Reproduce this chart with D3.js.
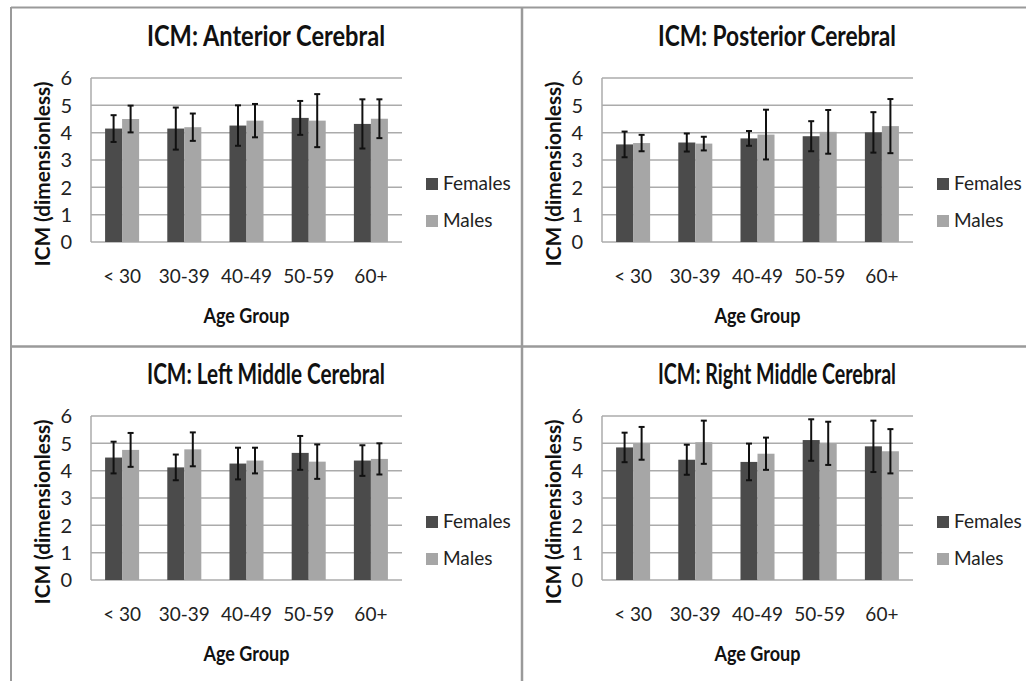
<!DOCTYPE html>
<html>
<head>
<meta charset="utf-8">
<script src="https://cdn.jsdelivr.net/npm/d3@7"></script>
<style>
  body { margin: 0; background: #fff; }
  svg { display: block; font-family: Lato, "Open Sans", sans-serif; }
</style>
</head>
<body>
<div id="chart"></div>
<script>
// Data
const ageGroups = ["< 30", "30-39", "40-49", "50-59", "60+"];
const seriesNames = ["Females", "Males"];
const yTicks = [0, 1, 2, 3, 4, 5, 6];
const panelTitles = ["ICM: Anterior Cerebral", "ICM: Posterior Cerebral",
                     "ICM: Left Middle Cerebral", "ICM: Right Middle Cerebral"];

const anteriorFemales    = [4.15, 4.15, 4.26, 4.54, 4.32];
const anteriorFemalesErr = [0.49, 0.77, 0.74, 0.62, 0.90];
const anteriorMales      = [4.50, 4.20, 4.44, 4.44, 4.51];
const anteriorMalesErr   = [0.49, 0.50, 0.61, 0.97, 0.71];

const posteriorFemales    = [3.57, 3.64, 3.79, 3.87, 4.01];
const posteriorFemalesErr = [0.47, 0.33, 0.27, 0.55, 0.74];
const posteriorMales      = [3.62, 3.60, 3.93, 4.03, 4.24];
const posteriorMalesErr   = [0.30, 0.25, 0.91, 0.80, 0.99];

const leftFemales    = [4.48, 4.12, 4.26, 4.65, 4.37];
const leftFemalesErr = [0.58, 0.47, 0.58, 0.62, 0.56];
const leftMales      = [4.76, 4.78, 4.37, 4.33, 4.43];
const leftMalesErr   = [0.62, 0.62, 0.47, 0.63, 0.57];

const rightFemales    = [4.85, 4.40, 4.32, 5.12, 4.89];
const rightFemalesErr = [0.54, 0.55, 0.67, 0.76, 0.94];
const rightMales      = [5.00, 5.04, 4.62, 5.00, 4.71];
const rightMalesErr   = [0.60, 0.79, 0.59, 0.79, 0.81];

const panelData = [
  [[anteriorFemales, anteriorFemalesErr], [anteriorMales, anteriorMalesErr]],
  [[posteriorFemales, posteriorFemalesErr], [posteriorMales, posteriorMalesErr]],
  [[leftFemales, leftFemalesErr], [leftMales, leftMalesErr]],
  [[rightFemales, rightFemalesErr], [rightMales, rightMalesErr]]
];

// Layout
const W = 1026, H = 681;
const plotW = 311, plotH = 164;
const origins = [{x: 91, y: 78}, {x: 602, y: 78}, {x: 91, y: 416}, {x: 602, y: 416}];
const colors = {Females: "#4b4b4b", Males: "#a6a6a6"};
const gridColor = "#ababab";

const svg = d3.select("#chart").append("svg")
    .attr("width", W)
    .attr("height", H);

// Panel frame lines
const frame = svg.append("g")
    .attr("stroke", "#9a9a9a")
    .attr("stroke-width", 2.5);
frame.append("line").attr("x1", 11).attr("x2", W).attr("y1", 7.5).attr("y2", 7.5).attr("stroke-width", 2);
frame.append("line").attr("x1", 11).attr("x2", 11).attr("y1", 7).attr("y2", H).attr("stroke-width", 2);
frame.append("line").attr("x1", 522).attr("x2", 522).attr("y1", 7).attr("y2", H);
frame.append("line").attr("x1", 11).attr("x2", W).attr("y1", 346.5).attr("y2", 346.5);

// Scales shared by every panel
const x0 = d3.scaleBand()
    .domain(ageGroups)
    .range([0, plotW])
    .paddingInner(0.453)
    .paddingOuter(0.2265);

const x1 = d3.scaleBand()
    .domain(seriesNames)
    .range([0, x0.bandwidth()]);

const y = d3.scaleLinear()
    .domain([0, 6])
    .range([plotH, 0]);

panelData.forEach(function(series, p) {
    const o = origins[p];
    const g = svg.append("g")
        .attr("transform", "translate(" + o.x + "," + o.y + ")");

    // Gridlines
    g.selectAll(".grid")
        .data(yTicks)
      .enter().append("line")
        .attr("class", "grid")
        .attr("x1", 0)
        .attr("x2", plotW)
        .attr("y1", d => y(d))
        .attr("y2", d => y(d))
        .attr("stroke", gridColor)
        .attr("stroke-width", 1.5);

    // Left axis line
    g.append("line")
        .attr("x1", 0).attr("x2", 0)
        .attr("y1", y(6)).attr("y2", y(0))
        .attr("stroke", gridColor)
        .attr("stroke-width", 1.5);

    // Y tick labels
    g.selectAll(".ylab")
        .data(yTicks)
      .enter().append("text")
        .attr("class", "ylab")
        .attr("x", -19)
        .attr("y", d => y(d))
        .attr("dy", "0.36em")
        .attr("text-anchor", "end")
        .style("font-size", "20px")
        .style("fill", "#222")
        .text(d => d);

    // Bars and error bars
    const rows = [];
    seriesNames.forEach(function(name, s) {
        ageGroups.forEach(function(age, i) {
            rows.push({name: name, age: age, value: series[s][0][i], err: series[s][1][i]});
        });
    });

    g.selectAll(".bar")
        .data(rows)
      .enter().append("rect")
        .attr("class", "bar")
        .attr("x", d => x0(d.age) + x1(d.name))
        .attr("y", d => y(d.value))
        .attr("width", x1.bandwidth())
        .attr("height", d => y(0) - y(d.value))
        .attr("fill", d => colors[d.name]);

    const eb = g.selectAll(".err")
        .data(rows)
      .enter().append("g")
        .attr("class", "err")
        .attr("stroke", "#111")
        .attr("stroke-width", 2);
    const cx = d => x0(d.age) + x1(d.name) + x1.bandwidth() / 2;
    eb.append("line")
        .attr("x1", cx).attr("x2", cx)
        .attr("y1", d => y(d.value + d.err))
        .attr("y2", d => y(d.value - d.err));
    eb.append("line")
        .attr("x1", d => cx(d) - 3).attr("x2", d => cx(d) + 3)
        .attr("y1", d => y(d.value + d.err))
        .attr("y2", d => y(d.value + d.err));
    eb.append("line")
        .attr("x1", d => cx(d) - 3).attr("x2", d => cx(d) + 3)
        .attr("y1", d => y(d.value - d.err))
        .attr("y2", d => y(d.value - d.err));

    // X tick labels
    g.selectAll(".xlab")
        .data(ageGroups)
      .enter().append("text")
        .attr("class", "xlab")
        .attr("x", d => x0(d) + x0.bandwidth() / 2)
        .attr("y", plotH + 41)
        .attr("text-anchor", "middle")
        .style("font-size", "19px")
        .style("fill", "#222")
        .text(d => d);

    // Titles
    g.append("text")
        .attr("x", 175)
        .attr("y", -32)
        .attr("text-anchor", "middle")
        .attr("textLength", 238)
        .attr("lengthAdjust", "spacingAndGlyphs")
        .style("font-size", "29px")
        .style("font-weight", "bold")
        .style("fill", "#111")
        .text(panelTitles[p]);

    g.append("text")
        .attr("x", plotW / 2)
        .attr("y", plotH + 81)
        .attr("text-anchor", "middle")
        .attr("textLength", 86)
        .attr("lengthAdjust", "spacingAndGlyphs")
        .style("font-size", "20px")
        .style("font-weight", "bold")
        .style("fill", "#111")
        .text("Age Group");

    g.append("text")
        .attr("transform", "translate(-41," + (plotH / 2 + 14) + ") rotate(-90)")
        .attr("text-anchor", "middle")
        .attr("textLength", 185)
        .attr("lengthAdjust", "spacingAndGlyphs")
        .style("font-size", "21px")
        .style("font-weight", "bold")
        .style("fill", "#111")
        .text("ICM (dimensionless)");

    // Legend
    const leg = g.selectAll(".legend")
        .data(seriesNames)
      .enter().append("g")
        .attr("class", "legend")
        .attr("transform", (d, i) => "translate(" + (plotW + 24) + "," + (100 + i * 37) + ")");
    leg.append("rect")
        .attr("width", 12)
        .attr("height", 12)
        .attr("fill", d => colors[d]);
    leg.append("text")
        .attr("x", 17)
        .attr("y", 12)
        .style("font-size", "19px")
        .style("fill", "#222")
        .text(d => d);
});
</script>
</body>
</html>
